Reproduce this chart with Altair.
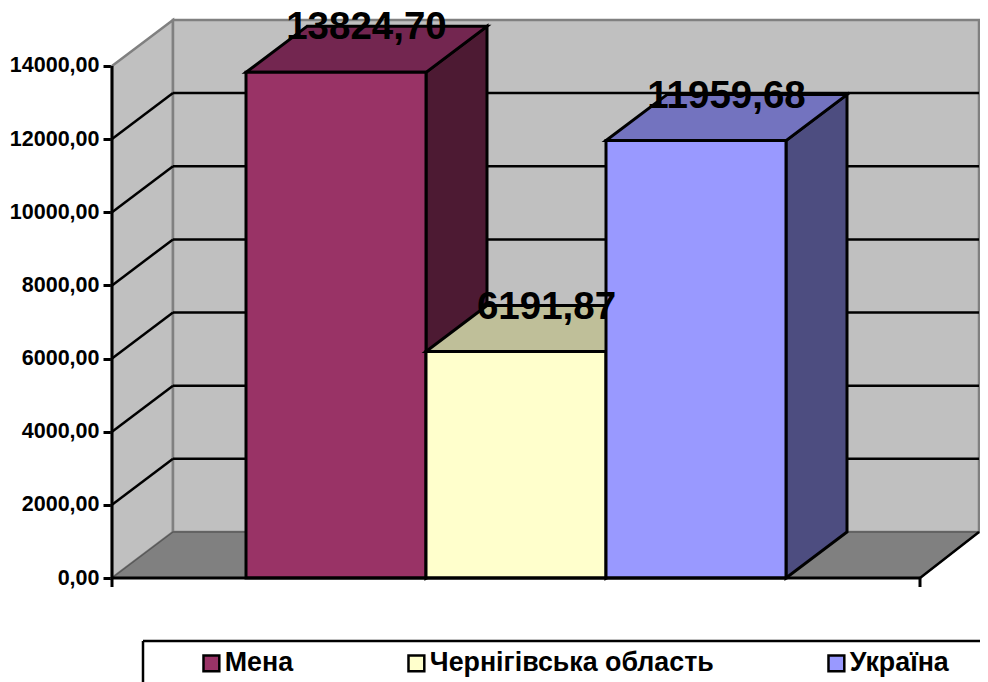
import altair as alt
import pandas as pd

categories = ["Мена", "Чернігівська область", "Україна"]
values = [13824.70, 6191.87, 11959.68]
ticks = [0, 2000, 4000, 6000, 8000, 10000, 12000, 14000]
front_colors = ["#993366", "#FFFFCC", "#9999FF"]
top_colors = ["#732650", "#BFBF99", "#7373BF"]
side_colors = ["#4D1A33", "#808066", "#4D4D80"]

FONT = "Liberation Sans"
PX = 73.15 / 2000         # pixels per value unit
VIEW_W, VIEW_H = 868, 674
ZERO_PX = 570             # zero line below the view top
DX = 61                   # oblique depth, horizontal
DY = 46 / PX              # oblique depth, in value units
FRONT_W = 808
BACK_R = 867              # back wall's right edge
BAR_L = 134
BAR_W = 180
TOP = 14000
BOTTOM = -(VIEW_H - ZERO_PX) / PX

xs = alt.Scale(domain=[0, VIEW_W], range=[0, VIEW_W], nice=False, zero=False)
ys = alt.Scale(domain=[BOTTOM, ZERO_PX / PX], nice=False, zero=False)


def X(f="x"):
    return alt.X(f"{f}:Q", scale=xs, axis=None)


def Y(f="y", axis=None):
    return alt.Y(f"{f}:Q", scale=ys, axis=axis)


def vert(rows, color, stroke, sw=3):
    df = pd.DataFrame(rows, columns=["x", "y", "y2"])
    return alt.Chart(df).mark_area(
        color=color, stroke=stroke, strokeWidth=sw, opacity=1, orient="vertical"
    ).encode(x=X(), y=Y(), y2="y2:Q")


def horiz(rows, color, stroke, sw=3):
    df = pd.DataFrame(rows, columns=["y", "x", "x2"])
    return alt.Chart(df).mark_area(
        color=color, stroke=stroke, strokeWidth=sw, opacity=1, orient="horizontal"
    ).encode(y=Y(), x=X(), x2="x2:Q")


def rule(rows, color="black", sw=2.5):
    df = pd.DataFrame(rows, columns=["x", "x2", "y", "y2"])
    return alt.Chart(df).mark_rule(color=color, strokeWidth=sw).encode(
        x=X(), x2="x2:Q", y=Y(), y2="y2:Q"
    )


layers = []

# Walls and floor
layers.append(vert([(0, TOP, 0), (DX, TOP + DY, DY)], "#C0C0C0", "#808080", 2.5))
layers.append(vert([(DX, TOP + DY, DY), (BACK_R, TOP + DY, DY)], "#C0C0C0", "#808080", 2.5))
layers.append(horiz([(0, 0, FRONT_W), (DY, DX, BACK_R)], "#808080", "#595959", 1.5))

# Gridlines on the side and back walls
grid_rows = []
for t in ticks[1:-1]:
    grid_rows.append((0, DX, t, t + DY))
    grid_rows.append((DX, BACK_R, t + DY, t + DY))
layers.append(rule(grid_rows))
layers.append(rule([(FRONT_W, BACK_R, 0, DY)]))

# Bars, back to front
for i, (cat, v) in enumerate(zip(categories, values)):
    l = BAR_L + i * BAR_W
    r = l + BAR_W
    layers.append(vert([(r, v, 0), (r + DX, v + DY, DY)], side_colors[i], "black"))
    layers.append(horiz([(v, l, r), (v + DY, l + DX, r + DX)], top_colors[i], "black"))
    front = pd.DataFrame({"x": [l, r], "y": [v, v], "y2": [0, 0], "cat": [cat, cat]})
    layers.append(
        alt.Chart(front)
        .mark_area(stroke="black", strokeWidth=3, opacity=1, orient="vertical")
        .encode(
            x=X(), y=Y(), y2="y2:Q",
            color=alt.Color(
                "cat:N",
                scale=alt.Scale(domain=categories, range=front_colors),
                legend=alt.Legend(
                    title=None, orient="none", legendX=86, legendY=642,
                    direction="horizontal", columns=3, gridAlign="none",
                    columnPadding=109, padding=0, symbolType="square",
                    symbolSize=250, symbolStrokeColor="black", symbolStrokeWidth=2.5,
                    symbolOpacity=1, labelFont=FONT, labelFontWeight="bold",
                    labelFontSize=26.8, labelColor="black", labelOffset=0,
                    labelLimit=400,
                ),
            ),
        )
    )

# Axes
tick_len = 9 / PX
axis_df = pd.DataFrame({"x": [0], "y": [-tick_len], "y2": [TOP]})
layers.append(
    alt.Chart(axis_df).mark_rule(color="black", strokeWidth=3).encode(
        x=X(),
        y=Y(axis=alt.Axis(
            values=ticks, domain=False, grid=False, ticks=True, tickSize=9,
            tickWidth=3, tickColor="black", labelFont=FONT, labelFontWeight="bold",
            labelFontSize=21.5, labelColor="black", labelPadding=4, title=None,
            labelExpr="replace(format(datum.value,'.2f'),'.',',')",
        )),
        y2="y2:Q",
    )
)
layers.append(rule([(0, FRONT_W, 0, 0), (FRONT_W, FRONT_W, -tick_len, 0)], sw=3))

# Legend frame
legend_left = 31
legend_top = -(641 - 8 - ZERO_PX) / PX
layers.append(rule([
    (legend_left, VIEW_W, legend_top, legend_top),
    (legend_left, legend_left, legend_top, BOTTOM),
]))

# Value labels
labels = pd.DataFrame({
    "x": [BAR_L + i * BAR_W + BAR_W / 2 + DX / 2 for i in range(3)],
    "y": [v + DY for v in values],
    "t": [f"{v:.2f}".replace(".", ",") for v in values],
})
layers.append(
    alt.Chart(labels).mark_text(
        font=FONT, fontWeight="bold", fontSize=38.5, color="black",
        align="center", baseline="middle", dy=1
    ).encode(x=X(), y=Y(), text="t:N")
)

chart = (
    alt.layer(*layers)
    .resolve_axis(y="independent")
    .properties(
        width=VIEW_W, height=VIEW_H,
        autosize=alt.AutoSizeParams(type="none"),
        padding={"left": 104, "top": 0, "right": 0, "bottom": 0},
    )
    .configure_view(stroke=None)
)

chart.save("out.html", embed_options={"renderer": "svg", "actions": False})
